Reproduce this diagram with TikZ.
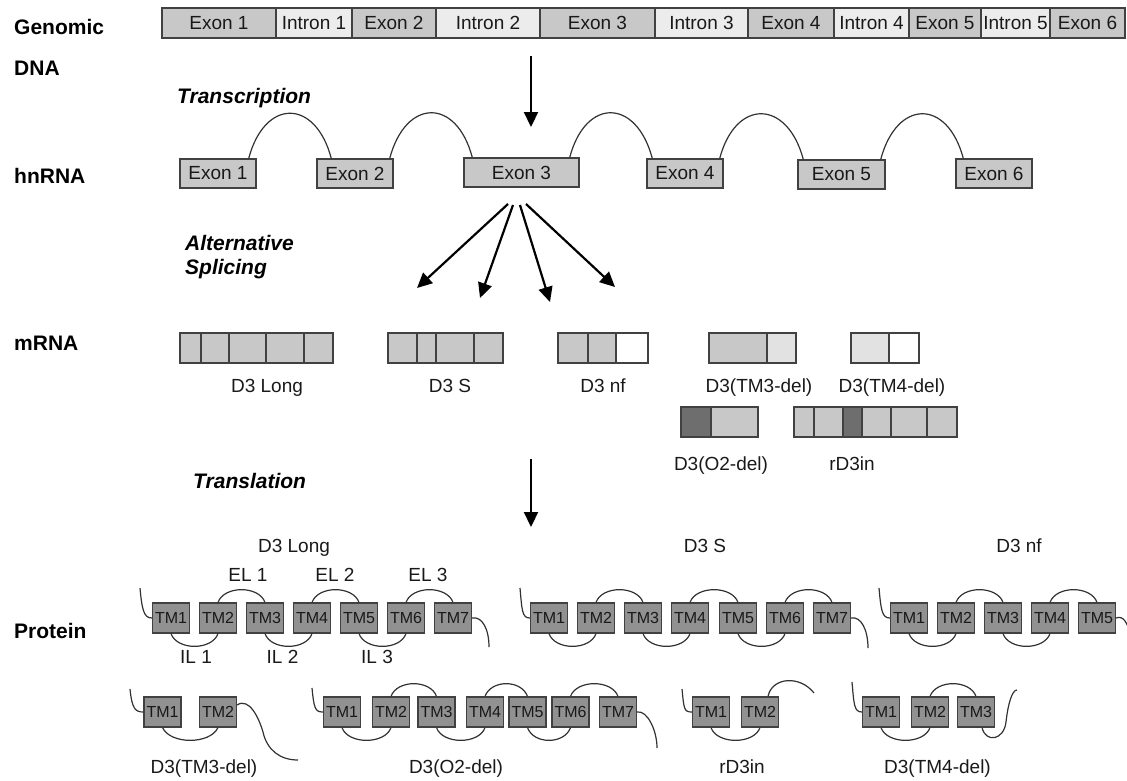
\documentclass[tikz,border=0pt]{standalone}
\usepackage{fontspec}
\setmainfont{Liberation Sans}
\usepackage{tikz}
\usetikzlibrary{positioning,arrows.meta,calc}
\definecolor{exongray}{RGB}{200,200,200}
\definecolor{introngray}{RGB}{236,236,236}
\definecolor{tmgray}{RGB}{145,145,145}
\definecolor{darkcell}{RGB}{110,110,110}
\definecolor{palecell}{RGB}{226,226,226}
\definecolor{edgegray}{RGB}{65,65,65}
\definecolor{loopgray}{RGB}{50,50,50}

\begin{document}
\begin{tikzpicture}[x=1pt,y=-1pt,
  rowlabel/.style={font=\fontsize{21}{24}\selectfont\bfseries,anchor=base west,inner sep=0pt},
  steplabel/.style={font=\fontsize{21}{25}\selectfont\bfseries\itshape,anchor=base west,inner sep=0pt},
  txt/.style={font=\fontsize{19}{21}\selectfont,anchor=base,inner sep=0pt,text=black!90},
  seg/.style={draw=edgegray,line width=1.2pt,minimum height=30pt,inner sep=0pt,font=\fontsize{19}{21}\selectfont,text=black!90},
  exseg/.style={seg,fill=exongray},
  inseg/.style={seg,fill=introngray},
  exbox/.style={draw=edgegray,line width=1.5pt,fill=exongray,minimum height=29pt,inner sep=0pt,font=\fontsize{19}{21}\selectfont,text=black!90},
  cell/.style={draw=edgegray,line width=1.5pt},
  tm/.style={draw=edgegray,line width=1.2pt,fill=tmgray,minimum width=37pt,minimum height=30pt,inner sep=0pt,font=\fontsize{16}{17}\selectfont,text=black!90},
  loop/.style={draw=loopgray,line width=1.2pt},
  flow/.style={line width=2.2pt,-{Triangle[length=15pt,width=14pt]}}
]
  \useasboundingbox (0,0) rectangle (1127,780);

  \node[rowlabel] (lgen) at (14,34) {Genomic};
  \node[rowlabel] (ldna) at (14,75) {DNA};
  \node[rowlabel] (lhn) at (14,183) {hnRNA};
  \node[rowlabel] (lm) at (14,350) {mRNA};
  \node[rowlabel] (lprot) at (14,638) {Protein};
  \node[steplabel] (ltrans) at (177,103) {Transcription};
  \node[steplabel] (lalt) at (185,250) {Alternative};
  \node[steplabel] (lspl) at (185,274) {Splicing};
  \node[steplabel] (ltransl) at (193,488) {Translation};

  \node[exseg,minimum width=114pt] (gex1) at (219,23) {Exon 1};
  \node[inseg,minimum width=76pt] (gin1) at (314,23) {Intron 1};
  \node[exseg,minimum width=84pt] (gex2) at (394,23) {Exon 2};
  \node[inseg,minimum width=104pt] (gin2) at (488,23) {Intron 2};
  \node[exseg,minimum width=115pt] (gex3) at (597.5,23) {Exon 3};
  \node[inseg,minimum width=93pt] (gin3) at (701.5,23) {Intron 3};
  \node[exseg,minimum width=86pt] (gex4) at (791,23) {Exon 4};
  \node[inseg,minimum width=75pt] (gin4) at (871.5,23) {Intron 4};
  \node[exseg,minimum width=72pt] (gex5) at (945,23) {Exon 5};
  \node[inseg,minimum width=69pt] (gin5) at (1015.5,23) {Intron 5};
  \node[exseg,minimum width=75pt] (gex6) at (1087.5,23) {Exon 6};

  \coordinate (txtop) at (531,56);
  \coordinate (txend) at (531,127);
  \draw[flow] (txtop) -- (txend);

  \node[exbox,minimum width=76pt] (hex1) at (218,173.5) {Exon 1};
  \node[exbox,minimum width=76pt] (hex2) at (355,173.5) {Exon 2};
  \node[exbox,minimum width=115pt] (hex3) at (521.5,172.5) {Exon 3};
  \node[exbox,minimum width=76pt] (hex4) at (685,173.5) {Exon 4};
  \node[exbox,minimum width=87pt] (hex5) at (841.5,174.5) {Exon 5};
  \node[exbox,minimum width=76pt] (hex6) at (994,173.5) {Exon 6};

  \draw[loop] ($(hex1.north east)+(-8,0)$) .. controls +(16,-60) and +(-16,-60) .. ($(hex2.north west)+(15,0)$);
  \draw[loop] ($(hex2.north east)+(-4,0)$) .. controls +(16,-60) and +(-16,-60) .. ($(hex3.north west)+(9,0)$);
  \draw[loop] ($(hex3.north east)+(-10,0)$) .. controls +(16,-60) and +(-16,-60) .. ($(hex4.north west)+(6,0)$);
  \draw[loop] ($(hex4.north east)+(-4,0)$) .. controls +(16,-60) and +(-16,-60) .. ($(hex5.north west)+(6,0)$);
  \draw[loop] ($(hex5.north east)+(-5,0)$) .. controls +(16,-60) and +(-16,-60) .. ($(hex6.north west)+(8,0)$);

  \coordinate (spa) at (508,204);
  \coordinate (spb) at (513,205);
  \coordinate (spc) at (520,205);
  \coordinate (spd) at (526,204);
  \coordinate (spA) at (417,288);
  \coordinate (spB) at (480,298);
  \coordinate (spC) at (550,302);
  \coordinate (spD) at (615,287);
  \draw[flow] (spa) -- (spA);
  \draw[flow] (spb) -- (spB);
  \draw[flow] (spc) -- (spC);
  \draw[flow] (spd) -- (spD);

  \foreach \a/\b in {180/201,201/229,229/266,266/304,304/333}
    \filldraw[cell,fill=exongray] (\a,333) rectangle (\b,363);
  \foreach \a/\b in {388/417,417/436,436/474,474/503}
    \filldraw[cell,fill=exongray] (\a,333) rectangle (\b,363);
  \foreach \a/\b in {558/588,588/616}
    \filldraw[cell,fill=exongray] (\a,333) rectangle (\b,363);
  \filldraw[cell,fill=white] (616,333) rectangle (648,363);
  \filldraw[cell,fill=exongray] (709,333) rectangle (767,363);
  \filldraw[cell,fill=palecell] (767,333) rectangle (796,363);
  \filldraw[cell,fill=palecell] (851,333) rectangle (889,363);
  \filldraw[cell,fill=white] (889,333) rectangle (919,363);
  \filldraw[cell,fill=darkcell] (681,407) rectangle (711,437);
  \filldraw[cell,fill=exongray] (711,407) rectangle (758,437);
  \foreach \a/\b in {794/814,814/843,862/891,891/927,927/957}
    \filldraw[cell,fill=exongray] (\a,407) rectangle (\b,437);
  \filldraw[cell,fill=darkcell] (843,407) rectangle (862,437);

  \node[txt] (mlong) at (267,392) {D3 Long};
  \node[txt] (mshort) at (450,392) {D3 S};
  \node[txt] (mnf) at (603,392) {D3 nf};
  \node[txt] (mtmthree) at (759,392) {D3(TM3-del)};
  \node[txt] (mtmfour) at (892,392) {D3(TM4-del)};
  \node[txt] (mo) at (721,470) {D3(O2-del)};
  \node[txt] (mrin) at (852,470) {rD3in};

  \coordinate (tltop) at (531,459);
  \coordinate (tlend) at (531,527);
  \draw[flow] (tltop) -- (tlend);

  % protein, first row
  \node[txt] (plong) at (294,552) {D3 Long};
  \node[txt] (pshort) at (705,552) {D3 S};
  \node[txt] (pnf) at (1019,552) {D3 nf};
  \node[txt] (elone) at (248,581) {EL 1};
  \node[txt] (eltwo) at (335,581) {EL 2};
  \node[txt] (elthree) at (428,581) {EL 3};
  \node[txt] (ilone) at (196,663) {IL 1};
  \node[txt] (iltwo) at (282.5,663) {IL 2};
  \node[txt] (ilthree) at (377,663) {IL 3};

  \foreach \x [count=\i] in {171,218,265,312,359,406,453}
    \node[tm] (pl\i) at (\x,618) {TM\i};
  \foreach \a/\b in {2/3,4/5,6/7}
    \draw[loop] (pl\a.north) .. controls +(6,-17) and +(-6,-17) .. (pl\b.north);
  \foreach \a/\b in {1/2,3/4,5/6}
    \draw[loop] (pl\a.south) .. controls +(6,17) and +(-6,17) .. (pl\b.south);
  \coordinate (pln) at (140,588);
  \coordinate (plc) at (489,647);
  \draw[loop] (pln) .. controls +(2,22) and +(-8,0) .. (pl1.west);
  \draw[loop] (pl7.east) .. controls +(10,-2) and +(0,-18) .. (plc);

  \foreach \x [count=\i] in {549,596,643,690,738,785,832}
    \node[tm] (ps\i) at (\x,618) {TM\i};
  \foreach \a/\b in {2/3,4/5,6/7}
    \draw[loop] (ps\a.north) .. controls +(6,-17) and +(-6,-17) .. (ps\b.north);
  \foreach \a/\b in {1/2,3/4,5/6}
    \draw[loop] (ps\a.south) .. controls +(6,17) and +(-6,17) .. (ps\b.south);
  \coordinate (psn) at (520,588);
  \coordinate (psc) at (868,648);
  \draw[loop] (psn) .. controls +(2,22) and +(-8,0) .. (ps1.west);
  \draw[loop] (ps7.east) .. controls +(10,-2) and +(0,-18) .. (psc);

  \foreach \x [count=\i] in {909,956,1003,1050,1097}
    \node[tm] (pn\i) at (\x,618) {TM\i};
  \foreach \a/\b in {2/3,4/5}
    \draw[loop] (pn\a.north) .. controls +(6,-17) and +(-6,-17) .. (pn\b.north);
  \foreach \a/\b in {1/2,3/4}
    \draw[loop] (pn\a.south) .. controls +(6,17) and +(-6,17) .. (pn\b.south);
  \coordinate (pnn) at (879,588);
  \coordinate (pnc) at (1130,632);
  \draw[loop] (pnn) .. controls +(2,22) and +(-8,0) .. (pn1.west);
  \draw[loop] (pn5.east) .. controls +(8,-3) and +(-3,-8) .. (pnc);

  % protein, second row
  \foreach \x [count=\i] in {162.5,218}
    \node[tm] (pa\i) at (\x,712) {TM\i};
  \draw[loop] (pa1.south) .. controls +(8,17) and +(-8,17) .. (pa2.south);
  \coordinate (pan) at (130,689);
  \coordinate (pac) at (298,760);
  \draw[loop] (pan) .. controls +(2,20) and +(-8,0) .. (pa1.west);
  \draw[loop] ($(pa2.east)+(0,-7)$) .. controls +(12,-8) and +(-4,-14) .. (263,732) .. controls +(4,18) and +(-18,0) .. (pac);
  \node[txt] (pathree) at (204,773) {D3(TM3-del)};

  \foreach \x [count=\i] in {342,391,436.5,485,527.5,570.5,618}
    \node[tm] (po\i) at (\x,712) {TM\i};
  \foreach \a/\b in {2/3,4/5,6/7}
    \draw[loop] (po\a.north) .. controls +(6,-17) and +(-6,-17) .. (po\b.north);
  \foreach \a/\b in {1/2,3/4,5/6}
    \draw[loop] (po\a.south) .. controls +(6,17) and +(-6,17) .. (po\b.south);
  \coordinate (pon) at (312,688);
  \coordinate (poc) at (657,748);
  \draw[loop] (pon) .. controls +(2,20) and +(-8,0) .. (po1.west);
  \draw[loop] (po7.east) .. controls +(10,-2) and +(0,-18) .. (poc);
  \node[txt] (potwo) at (456,773) {D3(O2-del)};

  \foreach \x [count=\i] in {711,760}
    \node[tm] (pr\i) at (\x,712) {TM\i};
  \draw[loop] (pr1.south) .. controls +(6,17) and +(-6,17) .. (pr2.south);
  \coordinate (prn) at (682,689);
  \coordinate (prc) at (814,693);
  \draw[loop] (prn) .. controls +(2,20) and +(-8,0) .. (pr1.west);
  \draw[loop] ($(pr2.north)+(8,0)$) .. controls (772,677) and (800,675) .. (prc);
  \node[txt] (prin) at (742,773) {rD3in};

  \foreach \x [count=\i] in {881,930,976}
    \node[tm] (pt\i) at (\x,712) {TM\i};
  \draw[loop] (pt1.south) .. controls +(6,17) and +(-6,17) .. (pt2.south);
  \draw[loop] (pt2.north) .. controls +(6,-17) and +(-6,-17) .. (pt3.north);
  \coordinate (ptn) at (852,682);
  \coordinate (ptc) at (1017,690);
  \draw[loop] (ptn) .. controls +(2,22) and +(-8,0) .. (pt1.west);
  \draw[loop] ($(pt3.south)+(6,0)$) .. controls +(4,16) and +(-2,18) .. (1006,722) .. controls +(2,-18) and +(-5,0) .. (ptc);
  \node[txt] (ptfour) at (937.5,773) {D3(TM4-del)};
\end{tikzpicture}
\end{document}
